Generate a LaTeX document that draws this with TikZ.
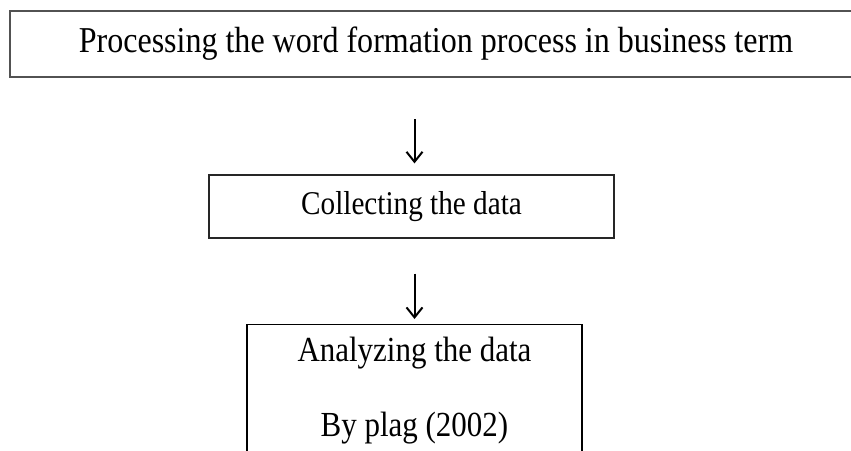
\documentclass[tikz,border=0pt]{standalone}
\usepackage{fontspec}
\setmainfont{Liberation Serif}[FakeStretch=0.88]
\usetikzlibrary{arrows.meta}

\begin{document}
\begin{tikzpicture}[x=0.5pt, y=-0.5pt]
% \draw[help lines, step=50] (0,0) grid (851,450);
\useasboundingbox (0,0) rectangle (851,450);
\begin{scope}[every node/.style={rectangle, draw, inner sep=0pt, align=center}]
    \def\boxfont{\fontsize{17.6}{37.5}\selectfont}

    % top box runs out of the page on the right
    \node[draw=black!68, line width=1pt, font=\fontsize{18.2}{22}\selectfont, minimum width=426pt, minimum height=33pt] (proc) at (436,44) {Processing the word formation process in business term};
    \node[draw=black!85, line width=0.6pt, font=\fontsize{16.6}{20}\selectfont, minimum width=202.5pt, minimum height=31.5pt] (coll) at (411.5,206.5) {Collecting the data};
    % only the top of the last box is seen
    \node[draw=black, line width=0.7pt, font=\boxfont, minimum width=167.5pt, inner ysep=6pt, anchor=north] (anal) at (414.5,324) {Analyzing the data\\By plag (2002)};
\end{scope}
\begin{scope}
    \draw[line width=1pt, -{Straight Barb[length=5pt, width=8pt, line width=1pt]}, shorten <=20.5pt, shorten >=5.5pt] (proc.south -| anal.north) -- (coll.north -| anal.north);
    \draw[line width=1pt, -{Straight Barb[length=5pt, width=8pt, line width=1pt]}, shorten <=17.5pt, shorten >=2.5pt] (coll.south -| anal.north) -- (anal.north);
\end{scope}
\end{tikzpicture}
\end{document}
